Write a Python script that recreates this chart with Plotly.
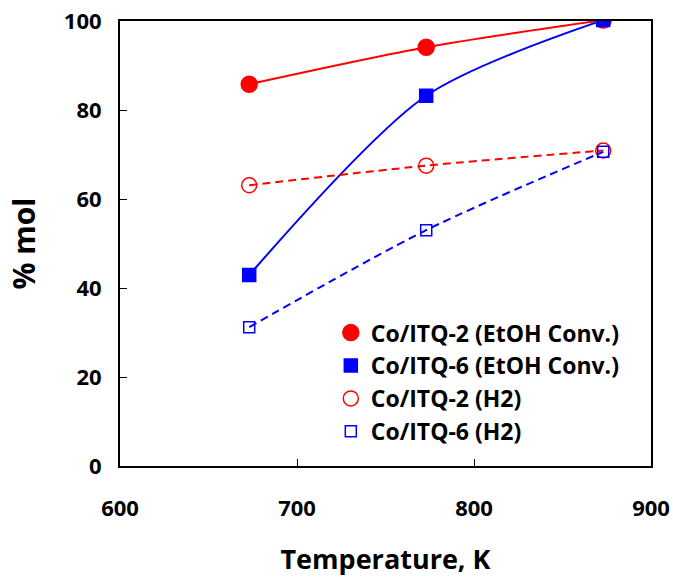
import plotly.graph_objects as go

temperature = [673, 773, 873]
itq2_etoh = [85.8, 94.1, 100.2]
itq6_etoh = [42.9, 83.2, 100.2]
itq2_h2 = [63.1, 67.5, 70.9]
itq6_h2 = [31.2, 53.0, 70.6]

series_names = ["Co/ITQ-2 (EtOH Conv.)", "Co/ITQ-6 (EtOH Conv.)",
                "Co/ITQ-2 (H2)", "Co/ITQ-6 (H2)"]
x_ticks = [600, 700, 800, 900]
y_ticks = [0, 20, 40, 60, 80, 100]

RED = "#FF0000"
BLUE = "#0000FF"
FONT = "Open Sans"

fig = go.Figure()

specs = [
    (itq2_etoh, RED, "solid", "circle", 16, series_names[0]),
    (itq6_etoh, BLUE, "solid", "square", 13, series_names[1]),
    (itq2_h2, RED, "8px,5px", "circle-open", 15, series_names[2]),
    (itq6_h2, BLUE, "8px,5px", "square-open", 11, series_names[3]),
]

# smoothed lines
for vals, col, dash, sym, size, name in specs:
    fig.add_trace(go.Scatter(
        x=temperature, y=vals, mode="lines",
        line=dict(color=col, width=2, dash=dash, shape="spline", smoothing=0.8),
        showlegend=False, hoverinfo="skip"))

# markers
for vals, col, dash, sym, size, name in specs:
    fig.add_trace(go.Scatter(
        x=temperature, y=vals, mode="markers", name=name,
        marker=dict(symbol=sym, size=size, color=col,
                    line=dict(color=col, width=1.5))))

fig.update_layout(
    width=673, height=577,
    margin=dict(l=120, r=22, t=21, b=111, autoexpand=False),
    paper_bgcolor="white", plot_bgcolor="white",
    font=dict(family=FONT, color="black"),
    showlegend=True,
    legend=dict(x=0.397, y=0.348, xanchor="left", yanchor="top",
                bgcolor="rgba(0,0,0,0)", borderwidth=0,
                font=dict(family=FONT, size=23, color="black", weight="bold"),
                itemwidth=30, tracegroupgap=0),
)

fig.update_xaxes(
    range=[600, 900], tickvals=x_ticks, ticktext=[str(v) for v in x_ticks],
    ticks="inside", ticklen=7, tickcolor="black", tickwidth=1,
    showline=True, linecolor="black", linewidth=2, mirror=True,
    showgrid=False, zeroline=False, automargin=False,
    tickfont=dict(family=FONT, size=22, color="black", weight="bold"),
    ticklabelstandoff=22,
    title=dict(text="Temperature, K", standoff=36,
               font=dict(family=FONT, size=27, color="black", weight="bold")),
)
fig.update_yaxes(
    range=[0, 100], tickvals=y_ticks,
    ticks="inside", ticklen=7, tickcolor="black", tickwidth=1,
    showline=True, linecolor="black", linewidth=2, mirror=True,
    showgrid=False, zeroline=False, automargin=False,
    tickfont=dict(family=FONT, size=22, color="black", weight="bold"),
    ticklabelstandoff=12,
    title=dict(text="% mol", standoff=19,
               font=dict(family=FONT, size=30, color="black", weight="bold")),
)

fig.write_html("out.html",
               config={"displayModeBar": False},
               post_script="document.body.style.margin='0';document.body.style.overflow='hidden';")
